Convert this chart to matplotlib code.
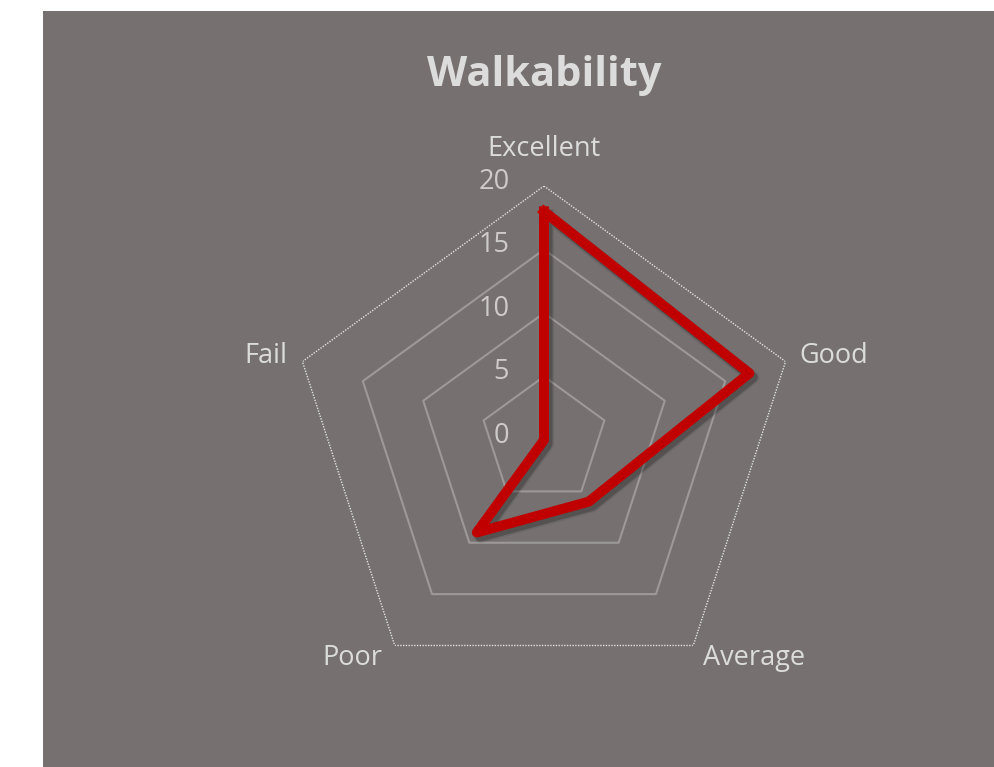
import numpy as np
import matplotlib
matplotlib.use("Agg")
import matplotlib.pyplot as plt
import matplotlib.patheffects as pe
from matplotlib.patches import Rectangle

# Data
categories = ["Excellent", "Good", "Average", "Poor", "Fail"]
values = [18, 17, 6, 9, 0]
rings = [5, 10, 15, 20]
tick_values = [0, 5, 10, 15, 20]

BG = "#767170"
TEXT = "#dcdcdc"

plt.rcParams["font.family"] = ["Open Sans", "DejaVu Sans"]

fig = plt.figure(figsize=(9.95, 7.67), dpi=100, facecolor="white")
bg = Rectangle((43 / 995, 0), 1 - 43 / 995, 1 - 11 / 767,
               transform=fig.transFigure, facecolor=BG, edgecolor="none", zorder=-10)
fig.add_artist(bg)

fig.text(544 / 995, 1 - 75 / 767, "Walkability", ha="center", va="center",
         fontsize=30, fontweight="bold", color=TEXT)

ax = fig.add_axes([290 / 995, 73 / 767, 508 / 995, 508 / 767], projection="polar")
ax.set_facecolor("none")
ax.set_theta_offset(np.pi / 2)
ax.set_theta_direction(-1)
ax.set_ylim(0, 20)
ax.grid(False)
ax.spines["polar"].set_visible(False)
ax.set_xticks([])
ax.set_yticks([])

n = len(categories)
theta = np.linspace(0, 2 * np.pi, n, endpoint=False)
theta_closed = np.append(theta, theta[0])

# pentagon grid
for r in rings:
    if r == rings[-1]:
        ax.plot(theta_closed, [r] * (n + 1), color="#e0e0e0", lw=1.0,
                ls=(0, (1, 1)), zorder=1)
    else:
        ax.plot(theta_closed, [r] * (n + 1), color="#9d9998", lw=1.5, zorder=1)

# radial tick labels
for v in tick_values:
    ax.annotate(str(v), xy=(0, v), xytext=(-25, 3), textcoords="offset points",
                ha="right", va="center", fontsize=19.5, color="#cfcbca")

# category labels
offsets = {
    "Excellent": ((0, 27), "center"),
    "Good": ((10, 4), "left"),
    "Average": ((7, -9), "left"),
    "Poor": ((-9, -9), "right"),
    "Fail": ((-11, 4), "right"),
}
for t, c in zip(theta, categories):
    off, ha = offsets[c]
    ax.annotate(c, xy=(t, 20), xytext=off, textcoords="offset points",
                ha=ha, va="center", fontsize=19.5, color=TEXT)

vals_closed = values + [values[0]]
ax.plot(theta_closed, vals_closed, color="#c00000", lw=7.2, solid_joinstyle="round",
        zorder=3,
        path_effects=[pe.SimpleLineShadow(offset=(2.5, -3), shadow_color="black",
                                          alpha=0.08, linewidth=9.5),
                      pe.SimpleLineShadow(offset=(2.5, -3), shadow_color="black",
                                          alpha=0.22, linewidth=7.2),
                      pe.Normal()])

fig.savefig("out.png", dpi=100, facecolor="white")
